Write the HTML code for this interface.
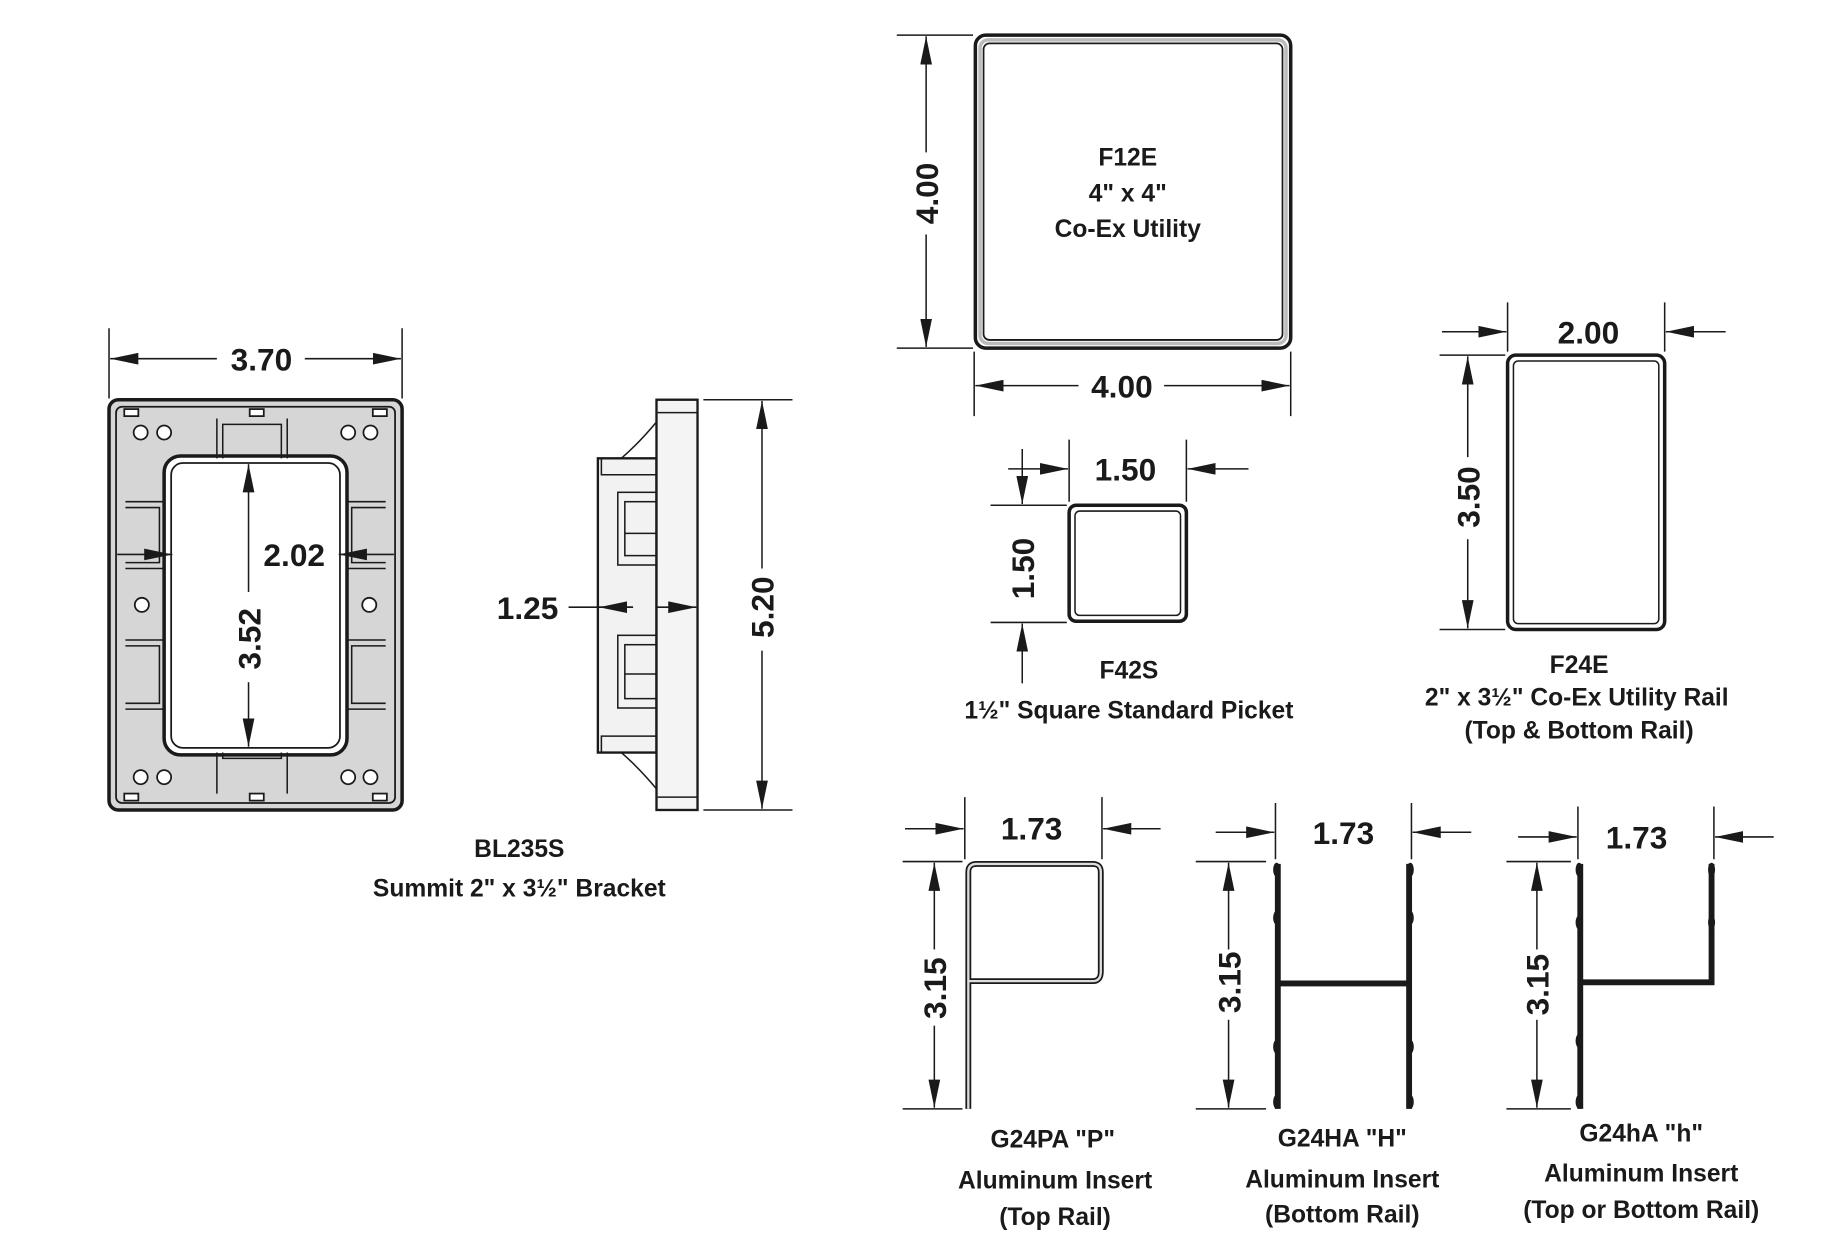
<!DOCTYPE html>
<html><head><meta charset="utf-8"><style>
html,body{margin:0;padding:0;background:#fff;width:1837px;height:1239px;overflow:hidden}
svg{display:block}
text{font-family:"Liberation Sans",sans-serif;font-weight:bold;fill:#1a1a1a;text-anchor:middle}
.d{font-size:27px}
.l{font-size:21px}
.k{stroke:#1a1a1a;stroke-width:1.3;fill:none}
</style></head><body>
<svg width="1837" height="1239" viewBox="0 0 1567 1057" preserveAspectRatio="none">
<defs>
<marker id="a" viewBox="0 0 24 10" refX="24" refY="5" markerWidth="24" markerHeight="10" markerUnits="userSpaceOnUse" orient="auto"><path d="M0,0L24,5L0,10z" fill="#1a1a1a"/></marker>
</defs>

<!-- BRACKET FRONT -->
<rect x="93" y="341" width="250" height="350" rx="8" fill="#d6d6d6" stroke="#1a1a1a" stroke-width="3"/>
<rect x="99" y="347" width="238" height="338" rx="5" fill="none" stroke="#1a1a1a" stroke-width="1.5"/>
<rect x="140" y="389" width="156" height="255" rx="14" fill="#fff" stroke="#1a1a1a" stroke-width="3"/>
<rect x="146" y="395" width="144" height="243" rx="10" fill="none" stroke="#1a1a1a" stroke-width="1.5"/>
<g fill="#fff" stroke="#1a1a1a" stroke-width="1.5">
<rect x="106" y="349" width="12" height="6"/><rect x="213" y="349" width="12" height="6"/><rect x="318" y="349" width="12" height="6"/>
<rect x="106" y="677" width="12" height="6"/><rect x="213" y="677" width="12" height="6"/><rect x="318" y="677" width="12" height="6"/>
<circle cx="120" cy="369" r="6"/><circle cx="140" cy="369" r="6"/><circle cx="297" cy="369" r="6"/><circle cx="316" cy="369" r="6"/>
<circle cx="120" cy="663" r="6"/><circle cx="140" cy="663" r="6"/><circle cx="297" cy="663" r="6"/><circle cx="316" cy="663" r="6"/>
<circle cx="121" cy="516" r="6"/><circle cx="315" cy="516" r="6"/>
</g>
<g class="k" stroke-width="2.5">
<path d="M185,391V357M190,391V362H240V391M245,391V357"/>
<path d="M185,642V677M190,642V647H240V642M245,642V677"/>
<path d="M107,428H140M107,433H136V480H107M107,485H140"/>
<path d="M107,546H140M107,551H136V600H107M107,605H140"/>
<path d="M329,428H296M329,433H300V480H329M329,485H296"/>
<path d="M329,546H296M329,551H300V600H329M329,605H296"/>
</g>
<!-- 3.70 -->
<path class="k" d="M93,280V340M343,280V340"/>
<line class="k" x1="185" y1="306" x2="94" y2="306" marker-end="url(#a)"/>
<line class="k" x1="260" y1="306" x2="342" y2="306" marker-end="url(#a)"/>
<text class="d" x="223" y="316">3.70</text>
<!-- 2.02 -->
<line class="k" x1="100" y1="473" x2="147" y2="473" marker-end="url(#a)"/>
<line class="k" x1="336" y1="473" x2="289" y2="473" marker-end="url(#a)"/>
<text class="d" x="251" y="483">2.02</text>
<!-- 3.52 -->
<line class="k" x1="212" y1="505" x2="212" y2="396" marker-end="url(#a)"/>
<line class="k" x1="212" y1="582" x2="212" y2="637" marker-end="url(#a)"/>
<text class="d" transform="translate(222,545) rotate(-90)">3.52</text>

<!-- BRACKET SIDE -->
<path d="M510,391H560V642H510Z" fill="#f2f2f2" stroke="#1a1a1a" stroke-width="2"/>
<path d="M530,391Q545,378 560,360M530,642Q545,655 560,673" class="k" stroke-width="2"/>
<path d="M513,391V405H560M513,642V628H560" class="k"/>
<rect x="560" y="341" width="35" height="350" fill="#f4f4f4" stroke="#1a1a1a" stroke-width="2"/>
<path d="M561,352H595M561,680H595" class="k"/>
<g class="k" stroke-width="2"><rect x="527" y="420" width="33" height="62"/><rect x="533" y="428" width="27" height="46"/>
<rect x="527" y="542" width="33" height="62"/><rect x="533" y="550" width="27" height="46"/>
<path d="M533,455H560M533,575H560"/></g>
<line class="k" x1="485" y1="518" x2="540" y2="518"/>
<line class="k" x1="540" y1="518" x2="511" y2="518" marker-end="url(#a)"/>
<line class="k" x1="560" y1="518" x2="594" y2="518" marker-end="url(#a)"/>
<text class="d" x="450" y="528">1.25</text>
<path class="k" d="M600,341H676M600,691H676"/>
<line class="k" x1="650" y1="485" x2="650" y2="342" marker-end="url(#a)"/>
<line class="k" x1="650" y1="555" x2="650" y2="690" marker-end="url(#a)"/>
<text class="d" transform="translate(660,518) rotate(-90)">5.20</text>
<text class="l" x="443" y="731">BL235S</text>
<text class="l" x="443" y="765">Summit 2" x 3½" Bracket</text>

<!-- F12E -->
<rect x="832" y="30" width="269" height="267" rx="9" fill="#fff" stroke="#1a1a1a" stroke-width="3"/>
<rect x="836" y="34" width="261" height="259" rx="7" fill="none" stroke="#bbb" stroke-width="3"/>
<rect x="839" y="37" width="255" height="253" rx="5" fill="none" stroke="#1a1a1a" stroke-width="1.5"/>
<text class="l" x="962" y="141">F12E</text>
<text class="l" x="962" y="172">4" x 4"</text>
<text class="l" x="962" y="202">Co-Ex Utility</text>
<path class="k" d="M765,30H830M765,297H830"/>
<line class="k" x1="790" y1="130" x2="790" y2="31" marker-end="url(#a)"/>
<line class="k" x1="790" y1="200" x2="790" y2="296" marker-end="url(#a)"/>
<text class="d" transform="translate(800,165) rotate(-90)">4.00</text>
<path class="k" d="M831,300V355M1101,300V355"/>
<line class="k" x1="920" y1="329" x2="832" y2="329" marker-end="url(#a)"/>
<line class="k" x1="993" y1="329" x2="1100" y2="329" marker-end="url(#a)"/>
<text class="d" x="957" y="339">4.00</text>

<!-- F42S -->
<rect x="912" y="431" width="100" height="99" rx="6" fill="#fff" stroke="#1a1a1a" stroke-width="3"/>
<rect x="917" y="436" width="90" height="89" rx="4" fill="none" stroke="#1a1a1a" stroke-width="1.3"/>
<path class="k" d="M912,375V428M1012,375V428M845,431H910M845,531H910"/>
<line class="k" x1="860" y1="400" x2="911" y2="400" marker-end="url(#a)"/>
<line class="k" x1="1065" y1="400" x2="1013" y2="400" marker-end="url(#a)"/>
<text class="d" x="960" y="410">1.50</text>
<line class="k" x1="872" y1="383" x2="872" y2="430" marker-end="url(#a)"/>
<line class="k" x1="872" y1="583" x2="872" y2="532" marker-end="url(#a)"/>
<text class="d" transform="translate(882,485) rotate(-90)">1.50</text>
<text class="l" x="963" y="579">F42S</text>
<text class="l" x="963" y="613">1½" Square Standard Picket</text>

<!-- F24E -->
<rect x="1286" y="303" width="134" height="234" rx="7" fill="#fff" stroke="#1a1a1a" stroke-width="3"/>
<rect x="1291" y="308" width="124" height="224" rx="4" fill="none" stroke="#1a1a1a" stroke-width="1.3"/>
<path class="k" d="M1286,258V300M1420,258V300M1228,303H1284M1228,537H1284"/>
<line class="k" x1="1230" y1="283" x2="1285" y2="283" marker-end="url(#a)"/>
<line class="k" x1="1472" y1="283" x2="1421" y2="283" marker-end="url(#a)"/>
<text class="d" x="1355" y="293">2.00</text>
<line class="k" x1="1252" y1="390" x2="1252" y2="304" marker-end="url(#a)"/>
<line class="k" x1="1252" y1="460" x2="1252" y2="536" marker-end="url(#a)"/>
<text class="d" transform="translate(1262,424) rotate(-90)">3.50</text>
<text class="l" x="1347" y="574">F24E</text>
<text class="l" x="1345" y="602">2" x 3½" Co-Ex Utility Rail</text>
<text class="l" x="1347" y="630">(Top &amp; Bottom Rail)</text>

<!-- G24PA -->
<path d="M826,946V744Q826,737 833,737H932Q939,737 939,744V829Q939,837 932,837H826" fill="none" stroke="#1a1a1a" stroke-width="5"/>
<path d="M826,946V744Q826,737 833,737H932Q939,737 939,744V829Q939,837 932,837H826" fill="none" stroke="#ddd" stroke-width="2"/>
<path class="k" d="M823,680V733M940,680V733M770,735H821M770,946H821"/>
<line class="k" x1="772" y1="707" x2="822" y2="707" marker-end="url(#a)"/>
<line class="k" x1="990" y1="707" x2="941" y2="707" marker-end="url(#a)"/>
<text class="d" x="880" y="716">1.73</text>
<line class="k" x1="797" y1="810" x2="797" y2="736" marker-end="url(#a)"/>
<line class="k" x1="797" y1="875" x2="797" y2="945" marker-end="url(#a)"/>
<text class="d" transform="translate(807,843) rotate(-90)">3.15</text>
<text class="l" x="898" y="979">G24PA "P"</text>
<text class="l" x="900" y="1014">Aluminum Insert</text>
<text class="l" x="900" y="1045">(Top Rail)</text>

<!-- G24HA -->
<path d="M1090,737V946M1202,737V946M1090,839H1202" stroke="#1a1a1a" stroke-width="5" fill="none"/>
<g fill="#1a1a1a"><ellipse cx="1089" cy="742" rx="3" ry="6"/><ellipse cx="1089" cy="783" rx="3" ry="6"/><ellipse cx="1089" cy="893" rx="3" ry="6"/><ellipse cx="1089" cy="940" rx="3" ry="6"/>
<ellipse cx="1203" cy="742" rx="3" ry="6"/><ellipse cx="1203" cy="783" rx="3" ry="6"/><ellipse cx="1203" cy="893" rx="3" ry="6"/><ellipse cx="1203" cy="940" rx="3" ry="6"/></g>
<path class="k" d="M1088,685V733M1204,685V733M1020,735H1080M1020,946H1080"/>
<line class="k" x1="1037" y1="710" x2="1087" y2="710" marker-end="url(#a)"/>
<line class="k" x1="1255" y1="710" x2="1205" y2="710" marker-end="url(#a)"/>
<text class="d" x="1146" y="720">1.73</text>
<line class="k" x1="1048" y1="810" x2="1048" y2="736" marker-end="url(#a)"/>
<line class="k" x1="1048" y1="870" x2="1048" y2="945" marker-end="url(#a)"/>
<text class="d" transform="translate(1058,838) rotate(-90)">3.15</text>
<text class="l" x="1145" y="978">G24HA "H"</text>
<text class="l" x="1145" y="1013">Aluminum Insert</text>
<text class="l" x="1145" y="1043">(Bottom Rail)</text>

<!-- G24hA -->
<path d="M1348,737V946M1460,737V838H1348" stroke="#1a1a1a" stroke-width="5" fill="none"/>
<g fill="#1a1a1a"><ellipse cx="1347" cy="742" rx="3" ry="6"/><ellipse cx="1347" cy="787" rx="3" ry="6"/><ellipse cx="1347" cy="888" rx="3" ry="6"/><ellipse cx="1347" cy="940" rx="3" ry="6"/>
<ellipse cx="1460" cy="742" rx="3" ry="6"/><ellipse cx="1460" cy="787" rx="3" ry="6"/></g>
<path class="k" d="M1346,688V733M1462,688V733M1285,735H1340M1285,946H1340"/>
<line class="k" x1="1295" y1="714" x2="1345" y2="714" marker-end="url(#a)"/>
<line class="k" x1="1513" y1="714" x2="1463" y2="714" marker-end="url(#a)"/>
<text class="d" x="1396" y="724">1.73</text>
<line class="k" x1="1311" y1="810" x2="1311" y2="736" marker-end="url(#a)"/>
<line class="k" x1="1311" y1="870" x2="1311" y2="945" marker-end="url(#a)"/>
<text class="d" transform="translate(1321,840) rotate(-90)">3.15</text>
<text class="l" x="1400" y="974">G24hA "h"</text>
<text class="l" x="1400" y="1008">Aluminum Insert</text>
<text class="l" x="1400" y="1039">(Top or Bottom Rail)</text>
</svg>
</body></html>
